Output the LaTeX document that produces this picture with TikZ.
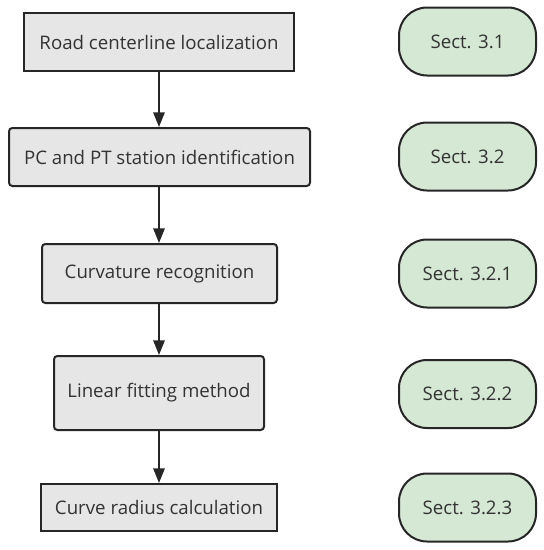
\documentclass[tikz,border=0pt]{standalone}
\usepackage{fontspec}
\setmainfont{Open Sans}
\usetikzlibrary{arrows.meta}
\definecolor{boxgray}{HTML}{E6E6E6}
\definecolor{boxgreen}{HTML}{D5E8D4}
\definecolor{ink}{HTML}{262626}
\definecolor{txt}{HTML}{333333}
\tikzset{
  stepbox/.style={draw=ink, line width=1.5pt, fill=boxgray, text=txt, font=\fontsize{14}{17}\selectfont, inner sep=0pt},
  rbox/.style={stepbox, rounded corners=2.5pt},
  secbox/.style={draw=ink, line width=1.5pt, fill=boxgreen, text=txt, font=\fontsize{14}{17}\selectfont, rounded corners=21pt, minimum width=102.75pt, minimum height=51pt, inner sep=0pt},
  flow/.style={draw=ink, line width=1.5pt, -{Triangle[length=11pt,width=8.5pt]}}
}
\begin{document}
\begin{tikzpicture}[x=0.75pt,y=-0.75pt]
\useasboundingbox (0,0) rectangle (543,550);
\node[stepbox, minimum width=202.5pt, minimum height=43.5pt] (b1) at (159,42) {Road centerline localization};
\node[rbox, minimum width=225.75pt, minimum height=43.5pt] (b2) at (159.5,157) {PC and PT station identification};
\node[rbox, minimum width=176.25pt, minimum height=44.25pt] (b3) at (159.5,273.5) {Curvature recognition};
\node[rbox, minimum width=157.5pt, minimum height=55.5pt] (b4) at (159,393) {Linear fitting method};
\node[stepbox, minimum width=177pt, minimum height=35.25pt] (b5) at (159,507.5) {Curve radius calculation};
\node[secbox] (s1) at (467.5,41.5) {Sect. 3.1};
\node[secbox] (s2) at (467.5,156.5) {Sect. 3.2};
\node[secbox] (s3) at (467.5,273.5) {Sect. 3.2.1};
\node[secbox] (s4) at (467.5,394) {Sect. 3.2.2};
\node[secbox] (s5) at (467.5,507.5) {Sect. 3.2.3};
\draw[flow] (b1.south -| 159,0) -- (b2.north -| 159,0);
\draw[flow] (b2.south -| 159,0) -- (b3.north -| 159,0);
\draw[flow] (b3.south -| 159,0) -- (b4.north -| 159,0);
\draw[flow] (b4.south -| 159,0) -- (b5.north -| 159,0);
\end{tikzpicture}
\end{document}
